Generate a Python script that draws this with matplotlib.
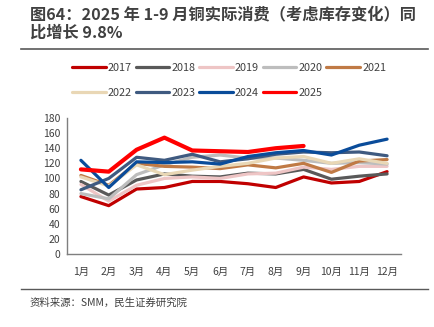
import matplotlib
matplotlib.use("Agg")
import matplotlib.pyplot as plt
from matplotlib.lines import Line2D

plt.rcParams['font.family'] = ['Noto Sans CJK SC', 'DejaVu Sans']

months = ['1月', '2月', '3月', '4月', '5月', '6月', '7月', '8月', '9月', '10月', '11月', '12月']
y_ticks = [0, 20, 40, 60, 80, 100, 120, 140, 160, 180]

s2017 = [76, 64, 86, 88, 96, 96, 93, 88, 102, 94, 96, 109]
s2018 = [96, 78, 98, 106, 103, 102, 107, 106, 112, 99, 103, 106]
s2019 = [92, 70, 91, 100, 102, 100, 106, 107, 115, 112, 116, 116]
s2020 = [80, 73, 105, 118, 128, 131, 127, 127, 124, 120, 121, 119]
s2021 = [104, 91, 120, 116, 115, 113, 118, 114, 120, 108, 123, 125]
s2022 = [102, 90, 118, 105, 111, 116, 120, 127, 129, 120, 126, 120]
s2023 = [85, 100, 128, 124, 132, 122, 126, 132, 135, 134, 135, 130]
s2024 = [124, 88, 122, 121, 122, 119, 129, 134, 137, 131, 144, 152]
s2025 = [112, 109, 138, 154, 137, 136, 135, 140, 143]

series = [
    ('2017', s2017, '#C00000', 2.3),
    ('2018', s2018, '#595959', 2.3),
    ('2019', s2019, '#EEC5C5', 2.3),
    ('2020', s2020, '#BDBDBD', 2.3),
    ('2021', s2021, '#C07A45', 2.3),
    ('2022', s2022, '#E9D7B5', 2.3),
    ('2023', s2023, '#3F5A80', 2.3),
    ('2024', s2024, '#0A4C9A', 2.3),
    ('2025', s2025, '#FF0000', 3.0),
]

fig = plt.figure(figsize=(4.34, 3.27), dpi=100)
ax = fig.add_axes([67 / 434, 1 - 254 / 327, (401 - 67) / 434, (254 - 118) / 327])

x = list(range(1, 13))
handles = []
for name, vals, color, lw in series:
    ax.plot(x[:len(vals)], vals, color=color, lw=lw, solid_capstyle='round',
            solid_joinstyle='round')
    handles.append(Line2D([0], [0], color=color, lw=2.3, solid_capstyle='round'))

ax.set_xlim(0.5, 12.5)
ax.set_ylim(0, 180)
ax.set_yticks(y_ticks)
ax.set_xticks(x)
ax.set_xticklabels(months)
ax.tick_params(axis='both', length=0, labelsize=7.5, colors='#404040')
ax.tick_params(axis='x', pad=9)
ax.tick_params(axis='y', pad=5)
for side in ('top', 'right'):
    ax.spines[side].set_visible(False)
for side in ('left', 'bottom'):
    ax.spines[side].set_color('#7F7F7F')
    ax.spines[side].set_linewidth(1.0)

# legend fills column by column; interleave so rows read 2017-2021 / 2022-2025
order = [0, 5, 1, 6, 2, 7, 3, 8, 4]
fig.legend([handles[i] for i in order], [series[i][0] for i in order],
           ncol=5, loc='upper left',
           bbox_to_anchor=(72 / 434, 1 - 63 / 327), frameon=False,
           fontsize=7.8, handlelength=3.1, handletextpad=0.2,
           columnspacing=0.35, labelspacing=1.35, borderpad=0,
           borderaxespad=0, labelcolor='#404040')

fig.text(30 / 434, 1 - 6 / 327,
         '图64：2025 年 1-9 月铜实际消费（考虑库存变化）同\n比增长 9.8%',
         ha='left', va='top', fontsize=11.7, fontweight='bold',
         color='#404040', linespacing=1.2)

fig.add_artist(Line2D([21 / 434, 428 / 434], [1 - 49 / 327, 1 - 49 / 327],
                      color='#595959', lw=1.2))
fig.add_artist(Line2D([21 / 434, 428 / 434], [1 - 289 / 327, 1 - 289 / 327],
                      color='#595959', lw=1.0))

fig.text(30 / 434, 1 - 303 / 327, '资料来源：SMM，民生证券研究院',
         ha='left', va='center', fontsize=7.5, color='#404040')

fig.savefig('out.png', dpi=100)
